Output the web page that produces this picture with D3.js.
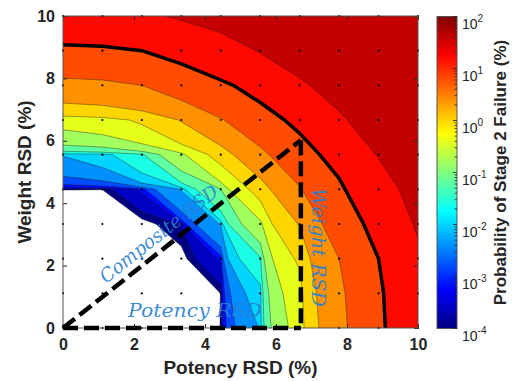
<!DOCTYPE html>
<html>
<head>
<meta charset="utf-8">
<script src="https://cdn.jsdelivr.net/npm/d3@7"></script>
<style>
  body { margin: 0; background: #fff; }
  svg  { display: block; font-family: Arial, "Liberation Sans", sans-serif; }
</style>
</head>
<body>
<svg id="chart" width="512" height="381"></svg>
<script>
/* ── data ───────────────────────────────────────────── */
// simulation grid (10 evenly spaced RSD values, %)
const potencyRSD = [0, 1.111, 2.222, 3.333, 4.444, 5.556, 6.667, 7.778, 8.889, 10];
const weightRSD  = [0, 1.111, 2.222, 3.333, 4.444, 5.556, 6.667, 7.778, 8.889, 10];

// log10 of probability of stage 2 failure (%); rows = weightRSD, cols = potencyRSD
// null = no failures observed
const logFailure = [
  [null, null, null, null, -3.99, -1.98, -0.26, 0.66, 1.11, 1.48],
  [null, null, null, null, -3.995, -1.80, -0.17, 0.70, 1.13, 1.50],
  [null, null, null, null, -3.15, -1.28, 0.06, 0.80, 1.20, 1.555],
  [null, null, null, -3.55, -1.98, -0.54, 0.42, 0.96, 1.30, 1.63],
  [-3.99, -3.995, -3.15, -1.98, -0.82, 0.13, 0.77, 1.13, 1.46, 1.70],
  [-1.98, -1.80, -1.28, -0.54, 0.13, 0.70, 1.03, 1.32, 1.615, 1.78],
  [-0.26, -0.17, 0.06, 0.42, 0.77, 1.03, 1.28, 1.555, 1.74, 1.85],
  [0.66, 0.70, 0.80, 0.96, 1.13, 1.32, 1.555, 1.71, 1.83, 1.90],
  [1.11, 1.13, 1.20, 1.30, 1.46, 1.615, 1.74, 1.83, 1.89, 1.93],
  [1.48, 1.50, 1.555, 1.63, 1.70, 1.78, 1.85, 1.90, 1.93, 1.955]
];

// contour levels, log10(%)
const levels = [-4, -3.6, -3.2, -2.8, -2.4, -2, -1.6, -1.2, -0.8, -0.4, 0, 0.4, 0.8, 1.2, 1.6, 2];
const limitLevel = 1.2;          // highlighted failure limit

const xTicks  = [0, 2, 4, 6, 8, 10];
const yTicks  = [0, 2, 4, 6, 8, 10];
const cbTicks = [-4, -3, -2, -1, 0, 1, 2];

// example RSD vector (potency, weight) ending on the limit
const vecPotency = 6.7;
const vecWeight  = 6.02;

/* ── setup ──────────────────────────────────────────── */
const svg = d3.select("#chart");
const x = d3.scaleLinear().domain([0, 10]).range([63, 418]);
const y = d3.scaleLinear().domain([0, 10]).range([328, 16]);
const ink = "#262626";

const jet = d3.scaleLinear()
  .domain([0, 0.125, 0.375, 0.625, 0.875, 1])
  .range(["#000080", "#0000ff", "#00ffff", "#ffff00", "#ff0000", "#800000"]);

const nx = potencyRSD.length, ny = weightRSD.length;
const values = [];
logFailure.forEach(row => row.forEach(v => values.push(v == null ? 0 : Math.pow(10, v))));

// d3.contours puts grid node k at k + 0.5
const gridX = d3.scaleLinear().domain([0.5, nx - 0.5]).range([potencyRSD[0], potencyRSD[nx - 1]]);
const gridY = d3.scaleLinear().domain([0.5, ny - 0.5]).range([weightRSD[0], weightRSD[ny - 1]]);
const path = d3.geoPath(d3.geoTransform({
  point(px, py) { this.stream.point(x(gridX(px)), y(gridY(py))); }
}));

svg.append("defs").append("clipPath").attr("id", "plot-clip")
  .append("rect")
  .attr("x", x(0)).attr("y", y(10))
  .attr("width", x(10) - x(0)).attr("height", y(0) - y(10));

/* ── filled contours ────────────────────────────────── */
const bands = d3.contours().size([nx, ny])
  .thresholds(levels.map(l => Math.pow(10, l)))(values);

const plot = svg.append("g").attr("clip-path", "url(#plot-clip)");
plot.selectAll("path.band").data(bands.slice(0, levels.length - 1)).join("path")
  .attr("class", "band")
  .attr("d", path)
  .attr("fill", (d, i) => jet(i / (levels.length - 1)))
  .attr("stroke", "#1a1a1a").attr("stroke-width", 0.5).attr("stroke-opacity", 0.8);

// thick limit contour
const limit = d3.contours().size([nx, ny]).thresholds([Math.pow(10, limitLevel)])(values)[0];
plot.append("path").datum(limit)
  .attr("d", path).attr("fill", "none")
  .attr("stroke", "#000").attr("stroke-width", 3.5).attr("stroke-linejoin", "round");

// grid nodes
const nodes = [];
weightRSD.forEach(w => potencyRSD.forEach(p => nodes.push([p, w])));
svg.append("g").selectAll("circle").data(nodes).join("circle")
  .attr("cx", d => x(d[0])).attr("cy", d => y(d[1]))
  .attr("r", 1.1).attr("fill", "#000");

/* ── axes ───────────────────────────────────────────── */
const tickStyle = g => {
  g.select(".domain").remove();
  g.selectAll(".tick line").attr("stroke", ink);
  g.selectAll(".tick text").attr("fill", ink)
    .attr("font-size", "16px").attr("font-weight", "bold");
};
svg.append("g").attr("transform", `translate(0,${y(0)})`)
  .call(d3.axisBottom(x).tickValues(xTicks).tickSize(-4).tickPadding(11)).call(tickStyle);
svg.append("g").attr("transform", `translate(${x(0)},0)`)
  .call(d3.axisLeft(y).tickValues(yTicks).tickSize(-4).tickPadding(8)).call(tickStyle);
svg.append("g").attr("transform", `translate(0,${y(10)})`)
  .call(d3.axisTop(x).tickValues(xTicks).tickSize(-4).tickFormat("")).call(tickStyle);
svg.append("g").attr("transform", `translate(${x(10)},0)`)
  .call(d3.axisRight(y).tickValues(yTicks).tickSize(-4).tickFormat("")).call(tickStyle);

svg.append("rect")
  .attr("x", x(0)).attr("y", y(10))
  .attr("width", x(10) - x(0)).attr("height", y(0) - y(10))
  .attr("fill", "none").attr("stroke", "#555").attr("stroke-width", 1);

svg.append("text").attr("x", (x(0) + x(10)) / 2).attr("y", 374)
  .attr("text-anchor", "middle").attr("fill", ink)
  .attr("font-size", "19px").attr("font-weight", "bold")
  .text("Potency RSD (%)");
svg.append("text").attr("transform", `translate(31,${(y(0) + y(10)) / 2}) rotate(-90)`)
  .attr("text-anchor", "middle").attr("fill", ink)
  .attr("font-size", "19px").attr("font-weight", "bold")
  .text("Weight RSD (%)");

/* ── RSD vector annotation ──────────────────────────── */
const dash = g => g.attr("stroke", "#000").attr("stroke-width", 4.5)
  .attr("stroke-dasharray", "15,6").attr("fill", "none");
svg.append("line").call(dash)
  .attr("x1", x(0)).attr("y1", y(0)).attr("x2", x(vecPotency)).attr("y2", y(vecWeight));
svg.append("line").call(dash)
  .attr("x1", x(vecPotency)).attr("y1", y(vecWeight)).attr("x2", x(vecPotency)).attr("y2", y(0));
svg.append("line").call(dash)
  .attr("x1", x(0)).attr("y1", y(0)).attr("x2", x(vecPotency)).attr("y2", y(0));

const angle = Math.atan2(y(0) - y(vecWeight), x(vecPotency) - x(0)) * 180 / Math.PI;
const note = g => g.attr("fill", "#2a7fd2").attr("fill-opacity", 0.92)
  .attr("font-family", "'DejaVu Serif', serif").attr("font-style", "italic")
  .attr("font-size", "19px").attr("lengthAdjust", "spacingAndGlyphs");
svg.append("text").call(note)
  .attr("transform", `translate(106,284) rotate(${-angle})`)
  .attr("textLength", 145).text("Composite RSD");
svg.append("text").call(note)
  .attr("x", 128).attr("y", 317)
  .attr("textLength", 134).text("Potency RSD");
svg.append("text").call(note)
  .attr("transform", "translate(312,188) rotate(90)")
  .attr("textLength", 119).text("Weight RSD");

/* ── colorbar ───────────────────────────────────────── */
const cb = { x: 437, w: 20 };
const c = d3.scaleLog().domain([1e-4, 1e2]).range([328.5, 16.5]);

const grad = svg.select("defs").append("linearGradient").attr("id", "jet-grad")
  .attr("x1", 0).attr("y1", 1).attr("x2", 0).attr("y2", 0);
jet.domain().forEach(t => grad.append("stop").attr("offset", t).attr("stop-color", jet(t)));

svg.append("rect")
  .attr("x", cb.x).attr("y", c(1e2)).attr("width", cb.w).attr("height", c(1e-4) - c(1e2))
  .attr("fill", "url(#jet-grad)").attr("stroke", "#555").attr("stroke-width", 1);

const cbAll = c.ticks();
svg.append("g").selectAll("line").data(cbAll).join("line")
  .attr("x1", cb.x + cb.w).attr("x2", d => cb.x + cb.w - (Number.isInteger(Math.log10(d)) ? 4 : 2.5))
  .attr("y1", d => c(d)).attr("y2", d => c(d))
  .attr("stroke", ink).attr("stroke-width", 0.8);

const cbLabels = svg.append("g").selectAll("text").data(cbTicks).join("text")
  .attr("x", cb.x + cb.w + 5).attr("y", d => c(Math.pow(10, d)) + 12)
  .attr("fill", ink).attr("font-size", "14px");
cbLabels.append("tspan").text("10");
cbLabels.append("tspan").attr("dy", -7).attr("font-size", "10px").text(d => String(d));

svg.append("text").attr("transform", `translate(506,${(c(1e2) + c(1e-4)) / 2}) rotate(-90)`)
  .attr("text-anchor", "middle").attr("fill", ink)
  .attr("font-size", "17px").attr("font-weight", "bold")
  .text("Probability of Stage 2 Failure (%)");
</script>
</body>
</html>
